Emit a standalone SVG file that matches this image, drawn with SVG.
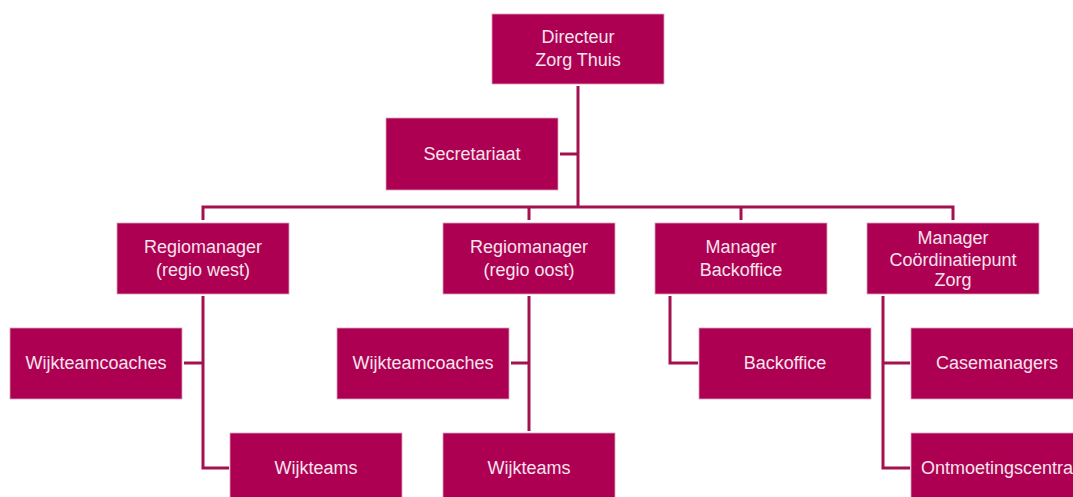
<svg xmlns="http://www.w3.org/2000/svg" width="1073" height="497" viewBox="0 0 1073 497">
<style>
.box{fill:#AE0052;stroke:#D8A3BB;stroke-width:0.8}
.t{font-family:"Liberation Sans",Arial,sans-serif;font-size:18px;fill:#F6E4EC;text-anchor:middle}
.c{fill:none;stroke:#A3124F;stroke-width:3}
</style>
<rect width="1073" height="497" fill="#ffffff"/>
<g id="connectors">
<path class="c" d="M578 86V207"/>
<path class="c" d="M560 154H578"/>
<path class="c" d="M203 220V207H953V220"/>
<path class="c" d="M529 207V220"/>
<path class="c" d="M741 207V220"/>
<path class="c" d="M203 296V468H229"/>
<path class="c" d="M184 363H203"/>
<path class="c" d="M529 296V431"/>
<path class="c" d="M511 363H529"/>
<path class="c" d="M670 296V363H698"/>
<path class="c" d="M883 296V468H910"/>
<path class="c" d="M883 363H910"/>
</g>
<g id="directeur"><rect class="box" x="492" y="14" width="172" height="70"/><text class="t" x="578" y="43">Directeur</text><text class="t" x="578" y="66">Zorg Thuis</text></g>
<g id="secretariaat"><rect class="box" x="386" y="118" width="172" height="72"/><text class="t" x="472" y="160">Secretariaat</text></g>
<g id="regio-west"><rect class="box" x="117" y="223" width="172" height="71"/><text class="t" x="203" y="253">Regiomanager</text><text class="t" x="203" y="276">(regio west)</text></g>
<g id="regio-oost"><rect class="box" x="443" y="223" width="172" height="71"/><text class="t" x="529" y="253">Regiomanager</text><text class="t" x="529" y="276">(regio oost)</text></g>
<g id="manager-backoffice"><rect class="box" x="655" y="223" width="172" height="71"/><text class="t" x="741" y="253">Manager</text><text class="t" x="741" y="276">Backoffice</text></g>
<g id="manager-coordinatiepunt"><rect class="box" x="867" y="223" width="172" height="71"/><text class="t" x="953" y="244">Manager</text><text class="t" x="953" y="266">Coördinatiepunt</text><text class="t" x="953" y="286">Zorg</text></g>
<g id="wijkteamcoaches-west"><rect class="box" x="10" y="328" width="172" height="71"/><text class="t" x="96" y="369">Wijkteamcoaches</text></g>
<g id="wijkteams-west"><rect class="box" x="230" y="433" width="172" height="71"/><text class="t" x="316" y="474">Wijkteams</text></g>
<g id="wijkteamcoaches-oost"><rect class="box" x="337" y="328" width="172" height="71"/><text class="t" x="423" y="369">Wijkteamcoaches</text></g>
<g id="wijkteams-oost"><rect class="box" x="443" y="433" width="172" height="71"/><text class="t" x="529" y="474">Wijkteams</text></g>
<g id="backoffice"><rect class="box" x="699" y="328" width="172" height="71"/><text class="t" x="785" y="369">Backoffice</text></g>
<g id="casemanagers"><rect class="box" x="911" y="328" width="172" height="71"/><text class="t" x="997" y="369">Casemanagers</text></g>
<g id="ontmoetingscentra"><rect class="box" x="911" y="433" width="172" height="71"/><text class="t" x="997" y="474">Ontmoetingscentra</text></g>
</svg>
